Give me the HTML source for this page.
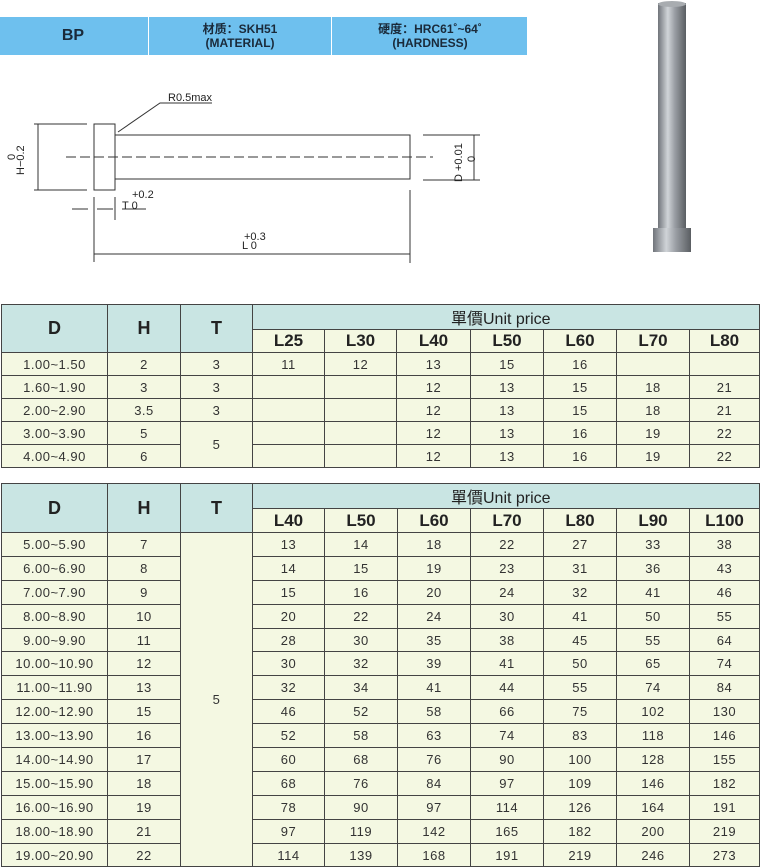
<!DOCTYPE html>
<html><head><meta charset="utf-8"><style>
body{margin:0;width:760px;height:867px;background:#fff;position:relative;overflow:hidden;font-family:"Liberation Sans","Noto Sans CJK SC",sans-serif;}
.bar{position:absolute;left:0;top:17px;width:527px;height:38px;background:#6ec0ee;}
.bar div{position:absolute;top:0;height:38px;color:#1a2a3a;font-weight:bold;text-align:center;font-size:12px;line-height:14px;}
table{position:absolute;left:1px;border-collapse:collapse;table-layout:fixed;}
td{border:1px solid #444;text-align:center;font-size:13px;letter-spacing:0.5px;color:#333;padding:0;background:#f4f8e2;}
td.h{background:#c9e5e3;font-weight:bold;font-size:18px;color:#222;letter-spacing:0;}
td.u{background:#c9e5e3;font-size:16px;color:#222;text-align:left;padding-left:198px;letter-spacing:0;}
td.l{font-weight:bold;font-size:17px;color:#222;letter-spacing:0;}
</style></head><body>
<div class="bar">
<div style="left:0;width:146px;line-height:38px;font-size:16px;">BP</div>
<div style="left:148px;width:182px;padding-top:5px;height:33px;border-left:1px solid #fff;">材质：SKH51<br>(MATERIAL)</div>
<div style="left:331px;width:196px;padding-top:5px;height:33px;border-left:1px solid #fff;">硬度：HRC61˚~64˚<br>(HARDNESS)</div>
</div>
<svg style="position:absolute;left:0;top:0" width="760" height="300">
<defs><linearGradient id="g" x1="0" x2="1"><stop offset="0" stop-color="#70747a"/><stop offset=".35" stop-color="#d0d4d8"/><stop offset=".6" stop-color="#9a9ea4"/><stop offset="1" stop-color="#5a5e62"/></linearGradient></defs>
<rect x="658" y="3" width="28" height="226" fill="url(#g)"/>
<ellipse cx="672" cy="4" rx="14" ry="3" fill="#a8acb0"/>
<rect x="653" y="228" width="38" height="24" fill="url(#g)"/>
<g stroke="#333" fill="none" stroke-width="1">
<rect x="94" y="124" width="21" height="66"/>
<rect x="115" y="135" width="295" height="44"/>
<line x1="66" y1="157" x2="433" y2="157" stroke-dasharray="10,4"/>
<line x1="34" y1="124" x2="87" y2="124"/><line x1="34" y1="190" x2="87" y2="190"/><line x1="38" y1="124" x2="38" y2="190"/>
<line x1="423" y1="135" x2="480" y2="135"/><line x1="423" y1="180" x2="480" y2="180"/><line x1="474" y1="135" x2="474" y2="180"/>
<polyline points="118,132 160,103 212,103"/>
<line x1="94" y1="197" x2="94" y2="262"/><line x1="115" y1="197" x2="115" y2="220"/>
<line x1="72" y1="209" x2="88" y2="209"/><line x1="97" y1="209" x2="113" y2="209"/><line x1="122" y1="209" x2="146" y2="209"/>
<line x1="410" y1="190" x2="410" y2="263"/><line x1="94" y1="254" x2="410" y2="254"/>
</g>
<g font-size="11" fill="#222" font-family="Liberation Sans,sans-serif">
<text x="168" y="101">R0.5max</text>
<text x="132" y="198">+0.2</text><text x="122" y="209">T  0</text>
<text x="244" y="240">+0.3</text><text x="242" y="249">L  0</text>
<text transform="translate(24,175) rotate(-90)">H−0.2</text><text transform="translate(15,160) rotate(-90)">0</text>
<text transform="translate(462,182) rotate(-90)">D +0.01</text><text transform="translate(475,162) rotate(-90)">0</text>
</g>
</svg>
<table style="top:304px;width:758px">
<colgroup><col style="width:106px"><col style="width:73px"><col style="width:72px"><col style="width:72px"><col style="width:72px"><col style="width:74px"><col style="width:73px"><col style="width:73px"><col style="width:73px"><col style="width:70px"></colgroup>
<tr style="height:23px"><td class="h" rowspan="2">D</td><td class="h" rowspan="2">H</td><td class="h" rowspan="2">T</td><td class="u" colspan="7">單價Unit price</td></tr>
<tr style="height:23px"><td class="l">L25</td><td class="l">L30</td><td class="l">L40</td><td class="l">L50</td><td class="l">L60</td><td class="l">L70</td><td class="l">L80</td></tr>
<tr style="height:23px"><td>1.00~1.50</td><td>2</td><td>3</td><td>11</td><td>12</td><td>13</td><td>15</td><td>16</td><td></td><td></td></tr>
<tr style="height:23px"><td>1.60~1.90</td><td>3</td><td>3</td><td></td><td></td><td>12</td><td>13</td><td>15</td><td>18</td><td>21</td></tr>
<tr style="height:23px"><td>2.00~2.90</td><td>3.5</td><td>3</td><td></td><td></td><td>12</td><td>13</td><td>15</td><td>18</td><td>21</td></tr>
<tr style="height:23px"><td>3.00~3.90</td><td>5</td><td rowspan="2">5</td><td></td><td></td><td>12</td><td>13</td><td>16</td><td>19</td><td>22</td></tr>
<tr style="height:23px"><td>4.00~4.90</td><td>6</td><td></td><td></td><td>12</td><td>13</td><td>16</td><td>19</td><td>22</td></tr>
</table>
<table style="top:483px;width:758px">
<colgroup><col style="width:106px"><col style="width:73px"><col style="width:72px"><col style="width:72px"><col style="width:73px"><col style="width:73px"><col style="width:73px"><col style="width:73px"><col style="width:73px"><col style="width:70px"></colgroup>
<tr style="height:24px"><td class="h" rowspan="2">D</td><td class="h" rowspan="2">H</td><td class="h" rowspan="2">T</td><td class="u" colspan="7">單價Unit price</td></tr>
<tr style="height:24px"><td class="l">L40</td><td class="l">L50</td><td class="l">L60</td><td class="l">L70</td><td class="l">L80</td><td class="l">L90</td><td class="l">L100</td></tr>
<tr style="height:23.9px"><td>5.00~5.90</td><td>7</td><td rowspan="14">5</td><td>13</td><td>14</td><td>18</td><td>22</td><td>27</td><td>33</td><td>38</td></tr>
<tr style="height:23.9px"><td>6.00~6.90</td><td>8</td><td>14</td><td>15</td><td>19</td><td>23</td><td>31</td><td>36</td><td>43</td></tr>
<tr style="height:23.9px"><td>7.00~7.90</td><td>9</td><td>15</td><td>16</td><td>20</td><td>24</td><td>32</td><td>41</td><td>46</td></tr>
<tr style="height:23.9px"><td>8.00~8.90</td><td>10</td><td>20</td><td>22</td><td>24</td><td>30</td><td>41</td><td>50</td><td>55</td></tr>
<tr style="height:23.9px"><td>9.00~9.90</td><td>11</td><td>28</td><td>30</td><td>35</td><td>38</td><td>45</td><td>55</td><td>64</td></tr>
<tr style="height:23.9px"><td>10.00~10.90</td><td>12</td><td>30</td><td>32</td><td>39</td><td>41</td><td>50</td><td>65</td><td>74</td></tr>
<tr style="height:23.9px"><td>11.00~11.90</td><td>13</td><td>32</td><td>34</td><td>41</td><td>44</td><td>55</td><td>74</td><td>84</td></tr>
<tr style="height:23.9px"><td>12.00~12.90</td><td>15</td><td>46</td><td>52</td><td>58</td><td>66</td><td>75</td><td>102</td><td>130</td></tr>
<tr style="height:23.9px"><td>13.00~13.90</td><td>16</td><td>52</td><td>58</td><td>63</td><td>74</td><td>83</td><td>118</td><td>146</td></tr>
<tr style="height:23.9px"><td>14.00~14.90</td><td>17</td><td>60</td><td>68</td><td>76</td><td>90</td><td>100</td><td>128</td><td>155</td></tr>
<tr style="height:23.9px"><td>15.00~15.90</td><td>18</td><td>68</td><td>76</td><td>84</td><td>97</td><td>109</td><td>146</td><td>182</td></tr>
<tr style="height:23.9px"><td>16.00~16.90</td><td>19</td><td>78</td><td>90</td><td>97</td><td>114</td><td>126</td><td>164</td><td>191</td></tr>
<tr style="height:23.9px"><td>18.00~18.90</td><td>21</td><td>97</td><td>119</td><td>142</td><td>165</td><td>182</td><td>200</td><td>219</td></tr>
<tr style="height:23.9px"><td>19.00~20.90</td><td>22</td><td>114</td><td>139</td><td>168</td><td>191</td><td>219</td><td>246</td><td>273</td></tr>
</table>
</body></html>
